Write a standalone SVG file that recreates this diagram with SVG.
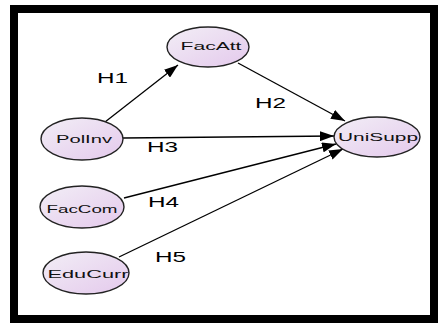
<svg xmlns="http://www.w3.org/2000/svg" width="448" height="323" viewBox="0 0 448 323">
  <defs>
    <linearGradient id="nodeFill" x1="0" y1="0" x2="1" y2="1">
      <stop offset="0" stop-color="#f2eef6"/>
      <stop offset="1" stop-color="#e4c9ec"/>
    </linearGradient>
    <marker id="arrow" viewBox="0 0 14 10" refX="14" refY="5" markerWidth="14" markerHeight="10" markerUnits="userSpaceOnUse" orient="auto">
      <path d="M0,0 L14,5 L0,10 Z" fill="#000"/>
    </marker>
    <style>
      .node ellipse { fill: url(#nodeFill); stroke: #222; stroke-width: 1.4; }
      .node text { font-family: "Liberation Sans", Arial, sans-serif; font-size: 11px; fill: #111; text-anchor: middle; }
      .edge { stroke: #000; stroke-width: 1.3; fill: none; marker-end: url(#arrow); }
      .hlabel { font-family: "Liberation Sans", Arial, sans-serif; font-size: 15px; fill: #000; }
    </style>
  </defs>

  <rect x="0" y="0" width="448" height="323" fill="#fff"/>
  <!-- heavy outer frame -->
  <rect x="14" y="9" width="420" height="310" fill="#fff" stroke="#000" stroke-width="8"/>

  <g id="connectors">
    <line class="edge" x1="105" y1="122" x2="178" y2="65"/>
    <line class="edge" x1="238" y1="63" x2="345" y2="121"/>
    <line class="edge" x1="123" y1="138" x2="334" y2="136"/>
    <line class="edge" x1="124" y1="198" x2="336" y2="144"/>
    <line class="edge" x1="119" y1="257" x2="343" y2="149"/>
  </g>

  <g id="labels">
    <text class="hlabel" x="97" y="83" textLength="31" lengthAdjust="spacingAndGlyphs">H1</text>
    <text class="hlabel" x="255" y="108" textLength="31" lengthAdjust="spacingAndGlyphs">H2</text>
    <text class="hlabel" x="147" y="152" textLength="31" lengthAdjust="spacingAndGlyphs">H3</text>
    <text class="hlabel" x="148" y="207" textLength="31" lengthAdjust="spacingAndGlyphs">H4</text>
    <text class="hlabel" x="155" y="262" textLength="31" lengthAdjust="spacingAndGlyphs">H5</text>
  </g>

  <g id="FacAtt" class="node">
    <ellipse cx="208" cy="47" rx="41" ry="20"/>
    <text x="211" y="50" textLength="61" lengthAdjust="spacingAndGlyphs">FacAtt</text>
  </g>
  <g id="PolInv" class="node">
    <ellipse cx="82" cy="139" rx="41" ry="21"/>
    <text x="84" y="143" textLength="56" lengthAdjust="spacingAndGlyphs">PolInv</text>
  </g>
  <g id="FacCom" class="node">
    <ellipse cx="82" cy="207" rx="42" ry="21"/>
    <text x="82" y="213" textLength="71" lengthAdjust="spacingAndGlyphs">FacCom</text>
  </g>
  <g id="EduCurr" class="node">
    <ellipse cx="86" cy="273" rx="43" ry="21"/>
    <text x="88" y="278" textLength="81" lengthAdjust="spacingAndGlyphs">EduCurr</text>
  </g>
  <g id="UniSupp" class="node">
    <ellipse cx="377" cy="137" rx="43" ry="20"/>
    <text x="378" y="141" textLength="80" lengthAdjust="spacingAndGlyphs">UniSupp</text>
  </g>
</svg>
